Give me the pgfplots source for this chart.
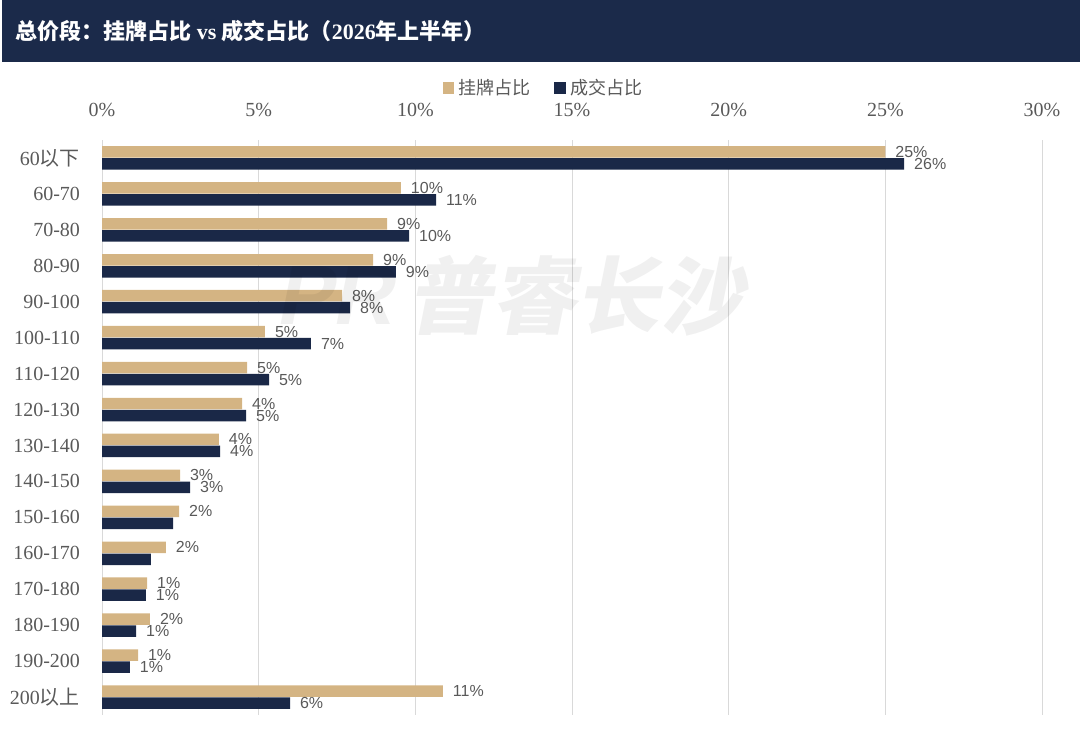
\documentclass[border=0pt]{standalone}
\usepackage{pgfplots}
\pgfplotsset{compat=1.18}
\usepackage{fontspec}
\setmainfont{Liberation Serif}
\setsansfont{Liberation Sans}
\newfontfamily\cjk{Noto Sans CJK SC}
\definecolor{navyhead}{HTML}{1B2A4A}
\definecolor{navybar}{HTML}{1A2847}
\definecolor{tanbar}{HTML}{D4B483}
\definecolor{txtgray}{HTML}{595959}
\definecolor{gridgray}{HTML}{D9D9D9}
\begin{document}
\begin{tikzpicture}
\path[use as bounding box] (0pt,0pt) rectangle (540pt,-366.5pt);
\fill[navyhead] (1.2pt,0pt) rectangle (540pt,-31pt);
\node[anchor=west, text=white, font=\fontsize{11pt}{13pt}\selectfont\bfseries, inner sep=0pt] at (7.5pt,-15.5pt)
  {{\cjk\bfseries 总价段：挂牌占比} vs {\cjk\bfseries 成交占比（}2026{\cjk\bfseries 年上半年）}};
\begin{axis}[
  at={(51pt,-357.5pt)}, anchor=south west,
  scale only axis, width=470pt, height=287.5pt,
  xbar, bar width=5.75pt,
  xmin=0, xmax=30, ymin=-0.5, ymax=15.5,
  y dir=reverse,
  axis line style={draw=none},
  xtick={0,5,...,30}, ytick={0,...,15},
  major tick length=0pt,
  xmajorgrids, grid style={gridgray, line width=0.5pt},
  xticklabel pos=right,
  /pgf/number format/assume math mode=true,
  xticklabel={\pgfmathprintnumber{\tick}\%},
  xticklabel style={font=\fontsize{10pt}{12pt}\selectfont, text=txtgray, yshift=8pt},
  yticklabels={60{\cjk 以下},60-70,70-80,80-90,90-100,100-110,110-120,120-130,130-140,140-150,150-160,160-170,170-180,180-190,190-200,200{\cjk 以上}},
  yticklabel style={font=\fontsize{10pt}{12pt}\selectfont, text=txtgray, xshift=-7.5pt},
  nodes near coords, point meta=explicit symbolic,
  every node near coord/.append style={font=\sffamily\fontsize{8pt}{9pt}\selectfont, text=txtgray, anchor=west, xshift=1.5pt},
  legend style={at={(0.4707,1.0904)}, anchor=center, draw=none, fill=none,
    legend columns=2, font=\cjk\fontsize{9pt}{11pt}\selectfont, text=txtgray,
    /tikz/every even column/.append style={column sep=10pt}},
  legend image code/.code={\fill[#1] (0pt,-2.9pt) rectangle (5.8pt,2.9pt);},
  clip=false,
]
\addplot[fill=tanbar, draw=none, bar shift=3pt] coordinates {
 (25.0,0) [25\%]
 (9.54,1) [10\%]
 (9.10,2) [9\%]
 (8.65,3) [9\%]
 (7.66,4) [8\%]
 (5.20,5) [5\%]
 (4.63,6) [5\%]
 (4.47,7) [4\%]
 (3.73,8) [4\%]
 (2.49,9) [3\%]
 (2.46,10) [2\%]
 (2.04,11) [2\%]
 (1.44,12) [1\%]
 (1.53,13) [2\%]
 (1.15,14) [1\%]
 (10.88,15) [11\%]
};
\addlegendentry{挂牌占比}
\addplot[fill=navybar, draw=none, bar shift=-3pt] coordinates {
 (25.6,0) [26\%]
 (10.66,1) [11\%]
 (9.80,2) [10\%]
 (9.38,3) [9\%]
 (7.92,4) [8\%]
 (6.67,5) [7\%]
 (5.33,6) [5\%]
 (4.60,7) [5\%]
 (3.77,8) [4\%]
 (2.81,9) [3\%]
 (2.27,10) []
 (1.56,11) []
 (1.40,12) [1\%]
 (1.09,13) [1\%]
 (0.89,14) [1\%]
 (6.00,15) [6\%]
};
\addlegendentry{成交占比}
\end{axis}
\node[text=black, text opacity=0.06, font=\cjk\bfseries\fontsize{42pt}{44pt}\selectfont, xslant=0.2, inner sep=0pt] at (291pt,-148pt) {普睿长沙};
\node[text=black, text opacity=0.06, font=\sffamily\bfseries\fontsize{42pt}{44pt}\selectfont, xslant=0.2, inner sep=0pt] at (170pt,-148pt) {PR};
\end{tikzpicture}
\end{document}
